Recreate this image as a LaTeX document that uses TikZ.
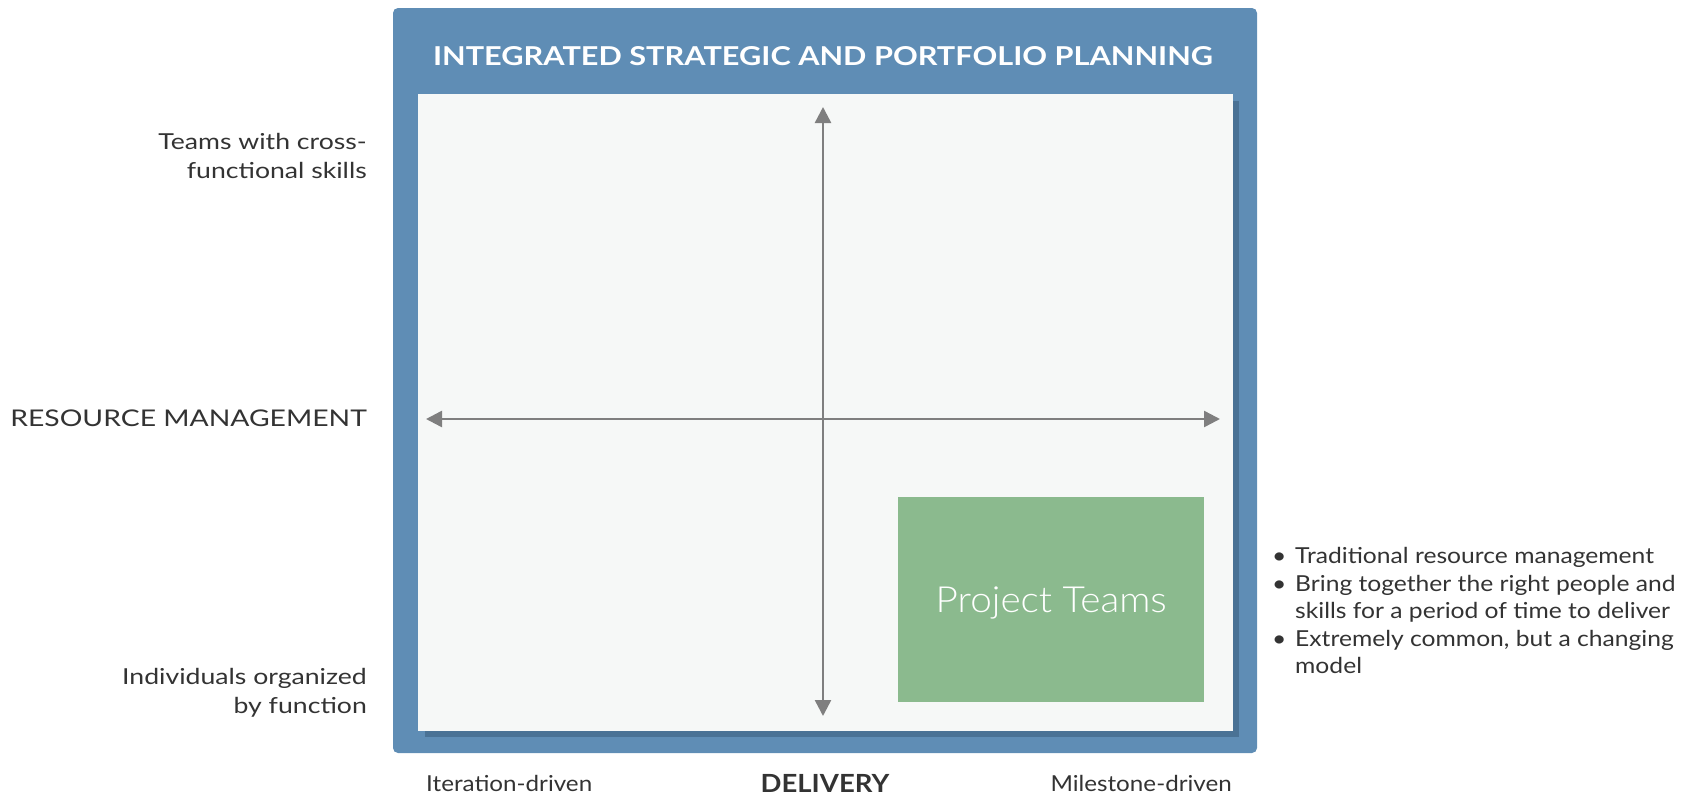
\documentclass[tikz,border=0pt]{standalone}
\usepackage{fontspec}
\setmainfont{Lato}
\newfontfamily\lightfont{Lato Light}[FakeStretch=1.075]
\newfontfamily\titlefont{Lato}[FakeStretch=1.18]
\newfontfamily\leftfont{Lato}[FakeStretch=1.21]
\newfontfamily\rmfont{Lato}[FakeStretch=1.23]
\newfontfamily\bulfont{Lato}[FakeStretch=1.12]
\newfontfamily\botfont{Lato}[FakeStretch=1.1]
\usetikzlibrary{arrows.meta}
\definecolor{outerblue}{HTML}{5F8DB5}
\definecolor{shadowblue}{HTML}{4A7295}
\definecolor{panelbg}{HTML}{F6F8F7}
\definecolor{greenbox}{HTML}{8BBA8E}
\definecolor{axisgray}{HTML}{7F7F7F}
\definecolor{txt}{HTML}{333333}
\begin{document}
\begin{tikzpicture}[x=1pt,y=-1pt,
  lbl/.style={text=txt, font=\leftfont\fontsize{22}{29}\selectfont, inner sep=0pt},
  botlbl/.style={text=txt, font=\botfont\fontsize{22}{29}\selectfont, inner sep=0pt},
  axisline/.style={draw=axisgray, line width=2.5pt, {Triangle[length=16pt,width=16pt]}-{Triangle[length=16pt,width=16pt]}}
]
\useasboundingbox (0,0) rectangle (1681,795);
% frame
\fill[outerblue, rounded corners=5pt] (393,8) rectangle (1257,753);
\fill[shadowblue] (425,101) rectangle (1239,737);
\fill[panelbg] (418,94) rectangle (1233,731);
\node[text=white, font=\titlefont\bfseries\fontsize{26}{30}\selectfont, inner sep=0pt] (title) at (823,56) {INTEGRATED STRATEGIC AND PORTFOLIO PLANNING};
% green box
\node[fill=greenbox, minimum width=306pt, minimum height=205pt, inner sep=0pt, anchor=north west] (pt) at (898,497) {};
\node[text=white, font=\lightfont\fontsize{36}{40}\selectfont, inner sep=0pt, yshift=-3pt] (ptlabel) at (pt.center) {Project Teams};
% axes
\coordinate (vtop) at (823,107);
\coordinate (vbot) at (823,716);
\coordinate (hleft) at (426,419);
\coordinate (hright) at (1220,419);
\draw[axisline] (vtop) -- (vbot);
\draw[axisline] (hleft) -- (hright);
% left labels
\node[lbl, anchor=east, align=right] (top) at (367,156) {Teams with cross-\\functional skills};
\node[text=txt, font=\rmfont\fontsize{23}{29}\selectfont, inner sep=0pt, anchor=east] (rm) at (367,418) {RESOURCE MANAGEMENT};
\node[lbl, anchor=east, align=right] (bot) at (367,693) {Individuals organized\\by function};
% bottom labels
\node[botlbl, anchor=west] (it) at (426,783) {Iteration-driven};
\node[text=txt, font=\botfont\bfseries\fontsize{25}{29}\selectfont, inner sep=0pt] (del) at (825,783) {DELIVERY};
\node[botlbl, anchor=east] (ms) at (1232,783) {Milestone-driven};
% bullets
\node[text=txt, font=\bulfont\fontsize{22}{27.6}\selectfont, inner sep=0pt, anchor=north west, align=left] (bul) at (1270,547) {%
\makebox[25pt][l]{\hspace*{2pt}•}Traditional resource management\\
\makebox[25pt][l]{\hspace*{2pt}•}Bring together the right people and\\
\hspace*{25pt}skills for a period of time to deliver\\
\makebox[25pt][l]{\hspace*{2pt}•}Extremely common, but a changing\\
\hspace*{25pt}model};
\end{tikzpicture}
\end{document}
